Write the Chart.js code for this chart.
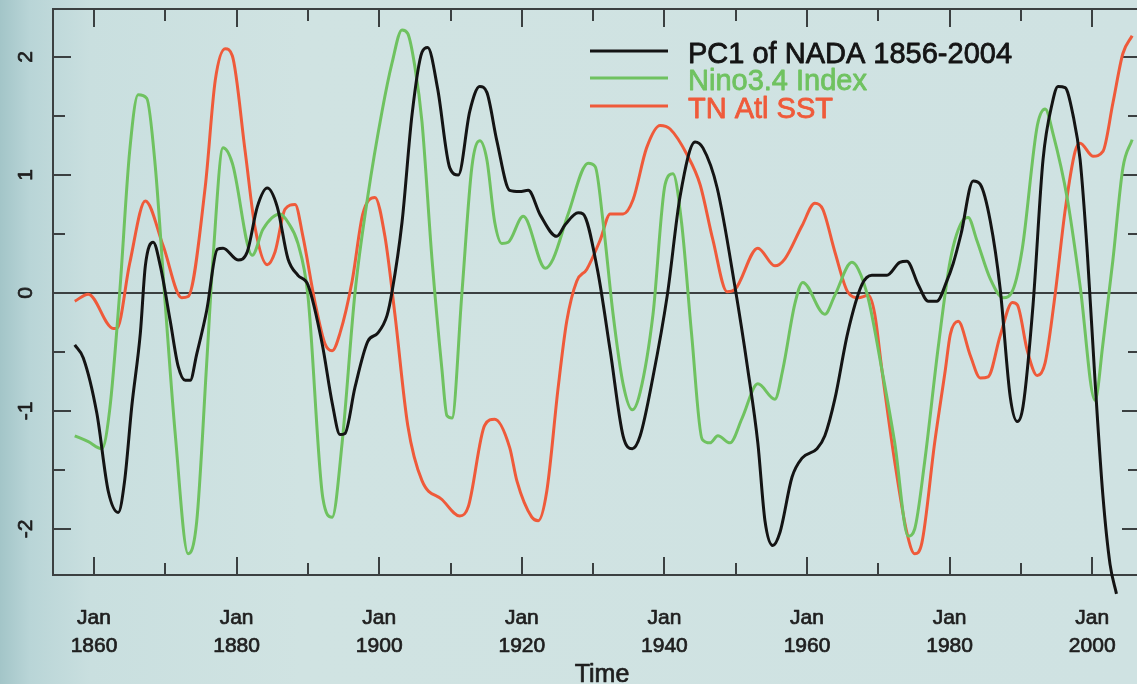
<!DOCTYPE html>
<html>
<head>
<meta charset="utf-8">
<script src="https://cdn.jsdelivr.net/npm/chart.js@4.4.0/dist/chart.umd.min.js"></script>
<style>
    html, body {
        margin: 0;
        padding: 0;
        overflow: hidden;
        width: 1137px;
        height: 684px;
        background: linear-gradient(to right, #a3c5c8 0px, #b9d5d7 30px, #c9dfdf 90px, #d0e3e2 300px, #cfe2e2 100%);
    }
    .chart-wrap {
        position: absolute;
        left: 0;
        top: 0;
        width: 1145px;
        height: 684px;
    }
</style>
</head>
<body>
<div class="chart-wrap"><canvas id="pcChart"></canvas></div>
<script>
// PC1 of NADA (black)
const pc1Years = [1857.3, 1858.5, 1860.4, 1862.0, 1863.4, 1864.3, 1865.3, 1866.5, 1867.2, 1868.3,
    1869.3, 1870.7, 1871.8, 1872.8, 1873.5, 1874.4, 1875.8, 1877.3, 1878.1, 1880.2,
    1881.5, 1882.9, 1884.3, 1885.7, 1887.2, 1888.6, 1890.0, 1892.0, 1893.4, 1894.5,
    1895.2, 1896.6, 1898.4, 1899.8, 1901.1, 1901.8, 1903.2, 1904.6, 1906.0, 1906.8,
    1908.2, 1909.9, 1911.1, 1912.7, 1914.1, 1915.1, 1916.5, 1918.3, 1919.7, 1920.9,
    1922.6, 1924.9, 1926.1, 1927.9, 1928.6, 1930.6, 1932.4, 1934.2, 1935.5, 1936.6,
    1938.4, 1940.4, 1942.2, 1944.3, 1945.4, 1947.4, 1949.9, 1951.7, 1953.1, 1954.1,
    1955.2, 1956.2, 1957.9, 1959.3, 1961.4, 1962.5, 1963.9, 1965.7, 1967.7, 1969.1,
    1971.2, 1973.0, 1974.0, 1975.6, 1977.0, 1978.2, 1979.6, 1980.5, 1981.6, 1983.3,
    1984.3, 1985.7, 1987.1, 1988.5, 1989.5, 1990.3, 1991.7, 1993.1, 1994.4, 1995.2,
    1996.2, 1997.3, 1998.3, 1999.3, 2000.4, 2001.5, 2002.5, 2003.4];
const pc1Values = [-0.44, -0.55, -1.02, -1.68, -1.86, -1.59, -0.96, -0.34, 0.23, 0.43,
    0.23, -0.24, -0.62, -0.74, -0.74, -0.52, -0.15, 0.37, 0.38, 0.28,
    0.35, 0.73, 0.89, 0.73, 0.29, 0.15, 0.07, -0.43, -0.93, -1.2,
    -1.19, -0.8, -0.41, -0.34, -0.19, 0.01, 0.6, 1.51, 2.04, 2.08,
    1.73, 1.06, 1.0, 1.54, 1.75, 1.7, 1.29, 0.87, 0.86, 0.87,
    0.66, 0.48, 0.58, 0.68, 0.67, 0.2, -0.49, -1.21, -1.32, -1.21,
    -0.71, -0.02, 0.82, 1.28, 1.23, 0.89, 0.05, -0.65, -1.27, -1.93,
    -2.14, -2.03, -1.56, -1.4, -1.32, -1.21, -0.9, -0.34, 0.07, 0.15,
    0.15, 0.26, 0.27, 0.07, -0.07, -0.07, 0.1, 0.25, 0.5, 0.95,
    0.92, 0.61, 0.03, -0.88, -1.09, -0.96, -0.1, 1.13, 1.61, 1.75,
    1.74, 1.51, 1.13, 0.35, -0.75, -1.72, -2.3, -2.55];

// Nino3.4 Index (green)
const ninoYears = [1857.3, 1859.2, 1861.1, 1862.2, 1863.6, 1865.0, 1866.2, 1867.4, 1868.6, 1870.0,
    1871.4, 1873.2, 1874.4, 1875.8, 1876.7, 1878.1, 1879.4, 1882.2, 1883.7, 1886.1,
    1887.2, 1888.6, 1890.0, 1892.1, 1893.4, 1894.8, 1896.6, 1898.4, 1900.4, 1901.8,
    1903.2, 1904.0, 1905.0, 1906.0, 1907.4, 1908.8, 1909.5, 1910.2, 1911.6, 1913.0,
    1914.1, 1915.1, 1916.2, 1917.2, 1918.1, 1920.2, 1923.3, 1924.4, 1926.5, 1929.3,
    1930.3, 1931.4, 1932.8, 1934.2, 1935.5, 1936.6, 1938.4, 1940.1, 1941.2, 1942.4,
    1943.8, 1945.3, 1946.4, 1947.5, 1949.2, 1950.9, 1953.1, 1955.5, 1956.6, 1958.3,
    1959.4, 1962.5, 1963.9, 1966.3, 1967.2, 1968.6, 1970.5, 1972.3, 1974.2, 1975.1,
    1976.5, 1978.4, 1980.1, 1981.9, 1982.6, 1983.8, 1985.7, 1987.5, 1988.9, 1990.2,
    1992.3, 1993.4, 1994.5, 1996.5, 1998.3, 2000.4, 2001.5, 2002.9, 2004.3, 2005.6];
const ninoValues = [-1.21, -1.26, -1.32, -0.99, 0.0, 1.2, 1.68, 1.65, 1.07, -0.1,
    -1.2, -2.21, -1.94, -0.6, 0.3, 1.23, 1.1, 0.32, 0.54, 0.67,
    0.6, 0.42, -0.02, -1.74, -1.9, -1.27, 0.0, 0.82, 1.54, 1.95,
    2.23, 2.2, 1.92, 1.45, 0.29, -0.65, -1.04, -1.06, 0.0, 1.07,
    1.29, 1.13, 0.6, 0.42, 0.43, 0.65, 0.21, 0.29, 0.67, 1.1,
    1.07, 0.6, -0.18, -0.77, -0.99, -0.84, -0.18, 0.92, 1.01, 0.6,
    -0.34, -1.24, -1.27, -1.21, -1.27, -1.06, -0.77, -0.9, -0.65, -0.09,
    0.09, -0.18, -0.02, 0.26, 0.2, -0.05, -0.65, -1.27, -2.06, -2.0,
    -1.43, -0.46, 0.28, 0.62, 0.64, 0.45, 0.12, -0.04, 0.03, 0.38,
    1.42, 1.56, 1.35, 0.8, 0.06, -0.91, -0.43, 0.28, 1.06, 1.3];

// TN Atl SST (red)
const tnaYears = [1857.3, 1859.2, 1862.7, 1863.2, 1865.0, 1867.2, 1869.7, 1872.3, 1873.2, 1875.6,
    1877.0, 1878.4, 1879.4, 1881.2, 1882.6, 1884.3, 1885.4, 1886.8, 1888.2, 1889.3,
    1891.0, 1892.4, 1893.4, 1894.5, 1896.2, 1897.7, 1899.4, 1900.8, 1902.2, 1904.0,
    1906.0, 1908.8, 1911.3, 1912.5, 1914.8, 1916.2, 1918.3, 1919.3, 1921.4, 1922.3,
    1923.5, 1925.1, 1926.3, 1927.7, 1929.1, 1931.0, 1932.4, 1934.2, 1935.6, 1937.5,
    1939.4, 1940.8, 1943.2, 1945.0, 1946.8, 1948.8, 1949.9, 1953.1, 1955.5, 1956.9,
    1959.3, 1961.1, 1962.2, 1963.9, 1965.7, 1967.2, 1968.6, 1969.5, 1970.5, 1972.3,
    1974.0, 1975.1, 1976.1, 1977.9, 1979.4, 1980.1, 1981.2, 1982.9, 1984.3, 1985.4,
    1987.1, 1988.8, 1989.5, 1990.9, 1992.3, 1993.4, 1994.8, 1996.2, 1997.6, 1998.3,
    2000.1, 2001.5, 2002.9, 2004.3, 2005.6];
const tnaValues = [-0.07, -0.01, -0.3, -0.3, 0.25, 0.78, 0.4, -0.04, -0.03, 0.9,
    1.8, 2.07, 2.01, 1.2, 0.55, 0.24, 0.35, 0.71, 0.75, 0.48,
    -0.08, -0.43, -0.49, -0.34, 0.1, 0.67, 0.81, 0.48, -0.18, -1.12,
    -1.59, -1.75, -1.89, -1.81, -1.12, -1.07, -1.31, -1.59, -1.9, -1.93,
    -1.68, -0.8, -0.24, 0.1, 0.2, 0.45, 0.67, 0.67, 0.79, 1.23,
    1.42, 1.39, 1.17, 0.92, 0.45, 0.01, 0.03, 0.38, 0.23, 0.29,
    0.57, 0.76, 0.71, 0.35, 0.01, -0.04, -0.02, -0.18, -0.65, -1.43,
    -2.03, -2.21, -2.12, -1.27, -0.65, -0.35, -0.24, -0.53, -0.72, -0.71,
    -0.36, -0.08, -0.1, -0.49, -0.7, -0.59, -0.01, 0.7, 1.2, 1.27,
    1.16, 1.2, 1.61, 2.03, 2.18];

// Axis ticks
const xTickYears = [1860, 1880, 1900, 1920, 1940, 1960, 1980, 2000];
const xMinorYears = [1870, 1890, 1910, 1930, 1950, 1970, 1990];
const yTickValues = [-2, -1, 0, 1, 2];
const yMinorValues = [-1.5, -0.5, 0.5, 1.5];

const seriesLabels = ['PC1 of NADA 1856-2004', 'Nino3.4 Index', 'TN Atl SST'];
const seriesColors = ['#141414', '#6fc260', '#ef5a3a'];

function toPoints(xs, ys) {
    return xs.map((x, i) => ({ x: x, y: ys[i] }));
}

const FONT = '"Liberation Sans", Arial, Helvetica, sans-serif';

// fill plus a thin stroke so the text looks as heavy as the scanned figure
function heavyText(ctx, txt, x, y, weight) {
    ctx.lineWidth = weight;
    ctx.strokeStyle = ctx.fillStyle;
    ctx.lineJoin = 'round';
    ctx.strokeText(txt, x, y);
    ctx.fillText(txt, x, y);
}

// Draws the R-style frame, inward ticks, zero line and axis labels
const framePlugin = {
    id: 'frame',
    beforeDatasetsDraw(chart) {
        const ctx = chart.ctx;
        const a = chart.chartArea;
        const xs = chart.scales.x;
        const ys = chart.scales.y;
        ctx.save();
        ctx.strokeStyle = '#3b4041';
        ctx.lineWidth = 2;
        ctx.strokeRect(a.left, a.top, a.right - a.left, a.bottom - a.top);

        // zero line
        const y0 = ys.getPixelForValue(0);
        ctx.beginPath();
        ctx.moveTo(a.left, y0);
        ctx.lineTo(a.right, y0);
        ctx.stroke();

        // x ticks, top and bottom, pointing inward
        const xTick = (yr, len) => {
            const px = Math.round(xs.getPixelForValue(yr));
            ctx.beginPath();
            ctx.moveTo(px, a.top);
            ctx.lineTo(px, a.top + len);
            ctx.moveTo(px, a.bottom);
            ctx.lineTo(px, a.bottom - len);
            ctx.stroke();
        };
        xTickYears.forEach(yr => xTick(yr, 18));
        xMinorYears.forEach(yr => xTick(yr, 12));

        // y ticks, left and right
        const yTick = (v, len) => {
            const py = Math.round(ys.getPixelForValue(v));
            ctx.beginPath();
            ctx.moveTo(a.left, py);
            ctx.lineTo(a.left + len, py);
            ctx.moveTo(a.right, py);
            ctx.lineTo(a.right - len, py);
            ctx.stroke();
        };
        yTickValues.forEach(v => yTick(v, 18));
        yMinorValues.forEach(v => yTick(v, 12));

        // labels
        ctx.fillStyle = '#1e1e1e';
        ctx.textAlign = 'center';
        ctx.textBaseline = 'alphabetic';
        ctx.font = '21px ' + FONT;
        xTickYears.forEach(yr => {
            const px = xs.getPixelForValue(yr);
            heavyText(ctx, 'Jan', px, 624, 0.7);
            heavyText(ctx, String(yr), px, 652, 0.7);
        });
        ctx.font = '25px ' + FONT;
        heavyText(ctx, 'Time', 602, 682, 0.7);

        ctx.font = '21px ' + FONT;
        ctx.textBaseline = 'middle';
        yTickValues.forEach(v => {
            const py = ys.getPixelForValue(v);
            ctx.save();
            ctx.translate(26, py);
            ctx.rotate(-Math.PI / 2);
            heavyText(ctx, String(v), 0, 0, 0.7);
            ctx.restore();
        });
        ctx.restore();
    },
    afterDraw(chart) {
        // legend, top right
        const ctx = chart.ctx;
        ctx.save();
        ctx.font = '29px ' + FONT;
        ctx.textAlign = 'left';
        ctx.textBaseline = 'alphabetic';
        const baselines = [63, 90, 118];
        chart.data.datasets.forEach((ds, i) => {
            const by = baselines[i];
            ctx.strokeStyle = ds.borderColor;
            ctx.lineWidth = 3;
            ctx.beginPath();
            ctx.moveTo(590, by - 12);
            ctx.lineTo(668, by - 12);
            ctx.stroke();
            ctx.fillStyle = ds.borderColor;
            heavyText(ctx, ds.label, 688, by, 0.8);
        });
        ctx.restore();
    }
};

const lineStyle = {
    borderWidth: 3,
    pointRadius: 0,
    fill: false,
    cubicInterpolationMode: 'monotone'
};

new Chart(document.getElementById('pcChart').getContext('2d'), {
    type: 'line',
    data: {
        datasets: [
            Object.assign({
                label: seriesLabels[0],
                data: toPoints(pc1Years, pc1Values),
                borderColor: seriesColors[0],
                clip: { left: 0, top: 0, right: 0, bottom: 20 }
            }, lineStyle),
            Object.assign({
                label: seriesLabels[1],
                data: toPoints(ninoYears, ninoValues),
                borderColor: seriesColors[1]
            }, lineStyle),
            Object.assign({
                label: seriesLabels[2],
                data: toPoints(tnaYears, tnaValues),
                borderColor: seriesColors[2]
            }, lineStyle)
        ]
    },
    options: {
        responsive: true,
        maintainAspectRatio: false,
        animation: false,
        layout: {
            padding: { left: 53, top: 9, right: 5, bottom: 109 }
        },
        plugins: {
            legend: { display: false },
            tooltip: { enabled: false }
        },
        scales: {
            x: {
                type: 'linear',
                min: 1854.25,
                max: 2006.7,
                display: false
            },
            y: {
                type: 'linear',
                min: -2.39,
                max: 2.407,
                display: false
            }
        }
    },
    plugins: [framePlugin]
});
</script>
</body>
</html>
